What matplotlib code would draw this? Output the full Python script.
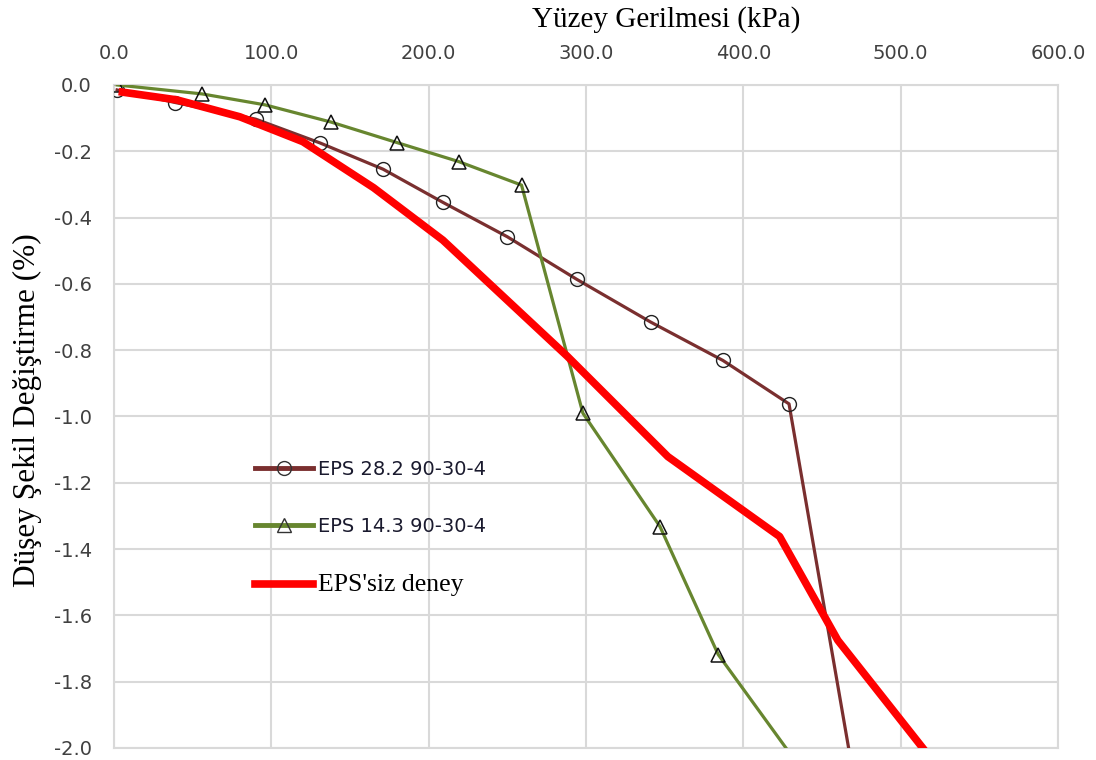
import matplotlib
matplotlib.use("Agg")
import matplotlib.pyplot as plt
from matplotlib.lines import Line2D
from matplotlib.ticker import FormatStrFormatter, MultipleLocator

# Surface stress (kPa) vs vertical strain (%)
eps282_x = [2, 39, 90, 131, 171, 209, 250, 294, 341, 387, 429, 476]
eps282_y = [-0.015, -0.053, -0.103, -0.175, -0.254, -0.354, -0.458, -0.586, -0.715, -0.831, -0.962, -2.25]

eps143_x = [2, 56, 96, 138, 180, 219, 259, 298, 347, 384, 450]
eps143_y = [0.0, -0.027, -0.060, -0.112, -0.174, -0.231, -0.302, -0.990, -1.332, -1.718, -2.15]

noeps_x = [3, 40, 80, 120, 165, 209, 288, 352, 423, 460, 514, 530]
noeps_y = [-0.020, -0.045, -0.096, -0.171, -0.310, -0.468, -0.818, -1.121, -1.362, -1.675, -2.0, -2.1]

labels = ["EPS 28.2 90-30-4", "EPS 14.3 90-30-4", "EPS'siz deney"]
x_title = "Yüzey Gerilmesi (kPa)"
y_title = "Düşey Şekil Değiştirme (%)"

c_brown = "#7a2f2f"
c_green = "#67862f"
c_red = "#ff0000"
grid_c = "#d9d9d9"
tick_c = "#404040"

fig = plt.figure(figsize=(10.96, 7.6), dpi=100)
ax = fig.add_axes([0.104, 0.0158, 0.8614, 0.8724])

ax.plot(eps282_x, eps282_y, color=c_brown, lw=2.3, marker="o", ms=10,
        mfc="none", mec="#222222", mew=1.0, zorder=3, clip_on=True)
ax.plot(eps143_x, eps143_y, color=c_green, lw=2.3, marker="^", ms=10,
        mfc="none", mec="#111111", mew=1.1, zorder=4, clip_on=True)
ax.plot(noeps_x, noeps_y, color=c_red, lw=5.5, zorder=5, clip_on=True,
        solid_capstyle="butt", solid_joinstyle="round")

ax.set_xlim(0, 600)
ax.set_ylim(-2.0, 0.0)
ax.xaxis.set_major_locator(MultipleLocator(100))
ax.yaxis.set_major_locator(MultipleLocator(0.2))
ax.xaxis.set_major_formatter(FormatStrFormatter("%.1f"))
ax.yaxis.set_major_formatter(FormatStrFormatter("%.1f"))
ax.xaxis.tick_top()
ax.tick_params(axis="both", length=0, labelsize=14, labelcolor=tick_c)
ax.tick_params(axis="x", pad=16)
ax.tick_params(axis="y", pad=16)

ax.grid(True, color=grid_c, lw=1.5, zorder=0)
ax.set_axisbelow(True)
for s in ax.spines.values():
    s.set_color(grid_c)
    s.set_linewidth(1.5)

fig.text(666 / 1096, 1 - 20 / 760, x_title, ha="center", va="center",
         fontsize=21, family="Liberation Serif", color="black")
fig.text(27 / 1096, 1 - 410 / 760, y_title, ha="center", va="center",
         rotation=90, fontsize=22.5, family="Liberation Serif", color="black")

handles = [
    Line2D([], [], color=c_brown, lw=3.5, marker="o", ms=10, mfc="none",
           mec="#333333", mew=1.0),
    Line2D([], [], color=c_green, lw=3.5, marker="^", ms=10, mfc="none",
           mec="#333333", mew=1.0),
    Line2D([], [], color=c_red, lw=5.5),
]
leg = ax.legend(handles, labels, loc="upper left",
                bbox_to_anchor=((255 - 114) / 944, (748 - 460) / 663),
                frameon=False, fontsize=14, handlelength=3.0,
                handletextpad=0.25, labelspacing=1.95, borderaxespad=0,
                borderpad=0)
for t in leg.get_texts()[:2]:
    t.set_color("#1a1a2e")
last = leg.get_texts()[2]
last.set_family("Liberation Serif")
last.set_fontsize(18.5)
last.set_color("black")

fig.savefig("out.png", dpi=100, facecolor="white")
